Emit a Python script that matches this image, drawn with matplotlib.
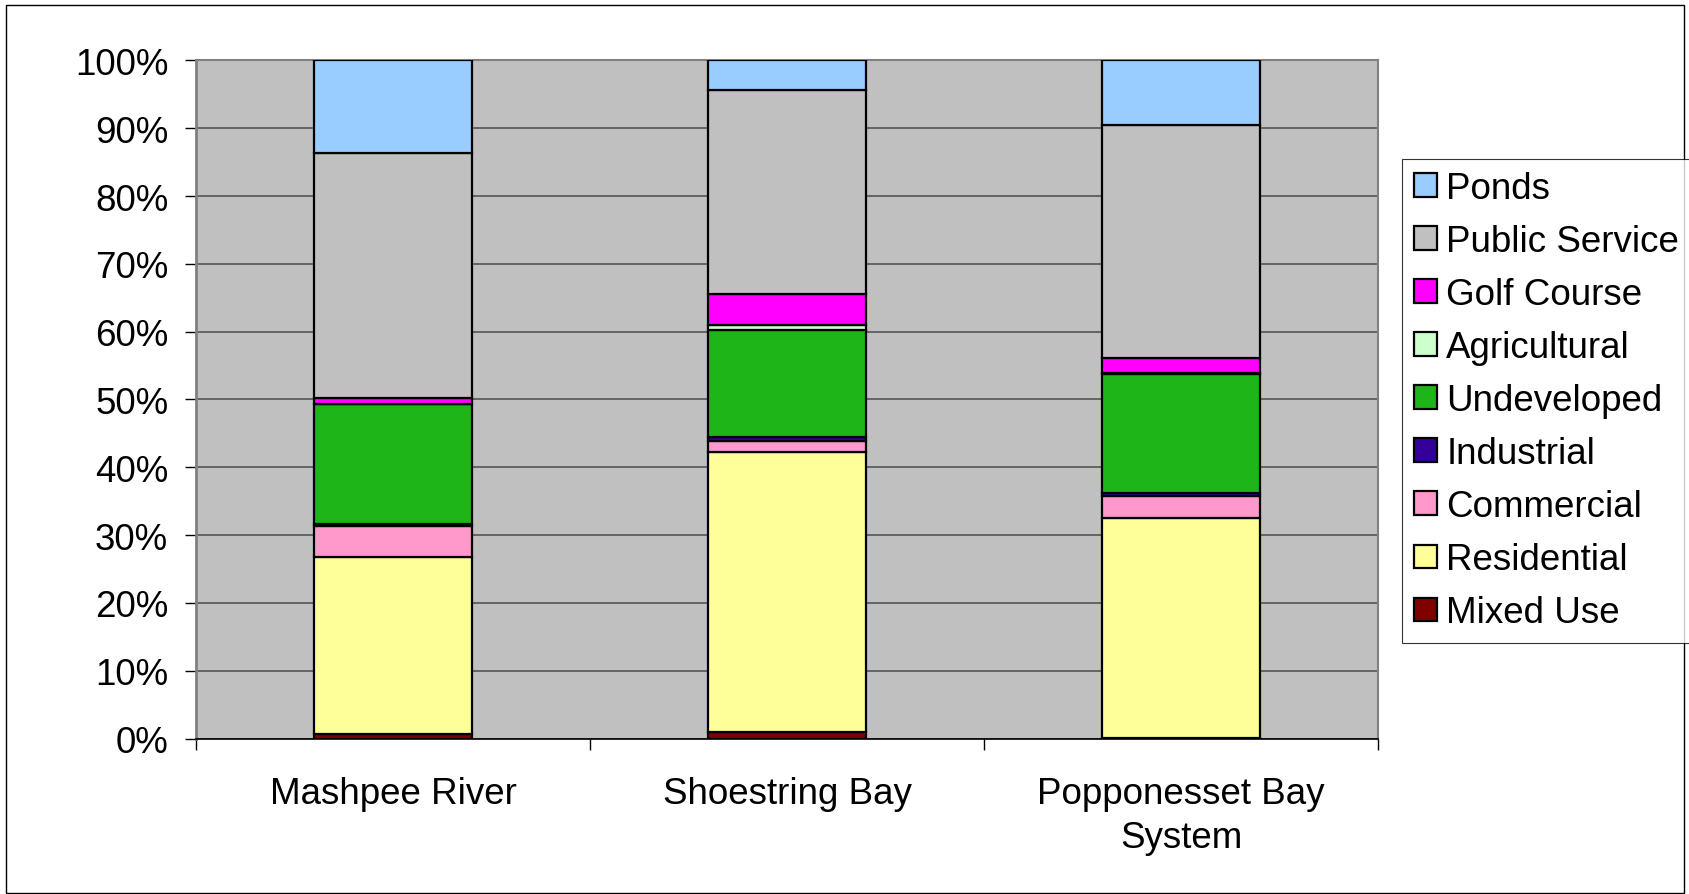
import matplotlib
matplotlib.use("Agg")
import matplotlib.pyplot as plt
from matplotlib.patches import Rectangle
import numpy as np

plt.rcParams['font.family'] = ['Liberation Sans', 'DejaVu Sans']

# watershed names and land-use shares (percent), bottom to top
regions = ['Mashpee River', 'Shoestring Bay', 'Popponesset Bay\nSystem']
categories = ['Mixed Use', 'Residential', 'Commercial', 'Industrial', 'Undeveloped',
              'Agricultural', 'Golf Course', 'Public Service', 'Ponds']
mixed_use = [0.7, 1.0, 0.05]
residential = [26.0, 41.3, 32.5]
commercial = [4.6, 1.6, 3.2]
industrial = [0.4, 0.5, 0.4]
undeveloped = [17.6, 15.8, 17.6]
agricultural = [0.1, 0.8, 0.2]
golf_course = [0.8, 4.6, 2.2]
public_service = [36.1, 30.0, 34.35]
ponds = [13.7, 4.4, 9.5]
colors = ['#800000', '#FFFF99', '#FF99CC', '#330099', '#1EB518',
          '#CCFFCC', '#FF00FF', '#C0C0C0', '#99CCFF']

series = [mixed_use, residential, commercial, industrial, undeveloped,
          agricultural, golf_course, public_service, ponds]

FS = 26.5

fig = plt.figure(figsize=(16.9, 8.95), dpi=100)
ax = fig.add_axes([196/1690, 1-739.5/895, (1378-196)/1690, (739.5-61.4)/895])
ax.set_facecolor('#C0C0C0')

x = np.arange(len(regions))
bottom = np.zeros(len(regions))
handles = []
for vals, name, c in zip(series, categories, colors):
    vals = np.array(vals)
    b = ax.bar(x, vals, 0.4, bottom=bottom, color=c, edgecolor='black',
               linewidth=1.6, label=name, zorder=3)
    handles.append(b)
    bottom += vals

ax.set_xlim(-0.5, 2.5)
ax.set_ylim(0, 100)
ax.set_yticks(np.arange(0, 101, 10))
ax.set_yticklabels(['%d%%' % v for v in range(0, 101, 10)])
ax.yaxis.grid(True, color='#555555', linewidth=1.2, zorder=0)
ax.set_axisbelow(True)
ax.tick_params(axis='y', labelsize=FS, length=8, width=1, pad=12, colors='black')

ax.set_xticks(x)
ax.set_xticklabels(regions, fontsize=FS, linespacing=1.33)
ax.set_xticks([-0.5, 0.5, 1.5, 2.5], minor=True)
ax.tick_params(axis='x', which='major', length=0, pad=27)
ax.tick_params(axis='x', which='minor', length=8, width=1)

for s in ['top', 'right']:
    ax.spines[s].set_color('#808080')
    ax.spines[s].set_linewidth(1.5)
for s in ['left', 'bottom']:
    ax.spines[s].set_color('black')
    ax.spines[s].set_linewidth(1.2)
ax.spines['left'].set_color('#808080')
ax.spines['left'].set_linewidth(2)

leg = fig.legend(handles[::-1], categories[::-1], loc='upper left',
                 bbox_to_anchor=(1402/1690, 1-160/895), borderaxespad=0,
                 fontsize=FS, fancybox=False, frameon=True, edgecolor='black',
                 handlelength=0.62, handleheight=0.62, handletextpad=0.25,
                 labelspacing=0.49, borderpad=0.33)
leg.get_frame().set_linewidth(0.8)
for h in leg.legend_handles:
    h.set_linewidth(1.6)

fig.patches.append(Rectangle((6/1690, 0.001), 1-12/1690, 1-6/895-0.001,
                             transform=fig.transFigure, fill=False,
                             edgecolor='black', linewidth=1))

fig.savefig('out.png', dpi=100)
